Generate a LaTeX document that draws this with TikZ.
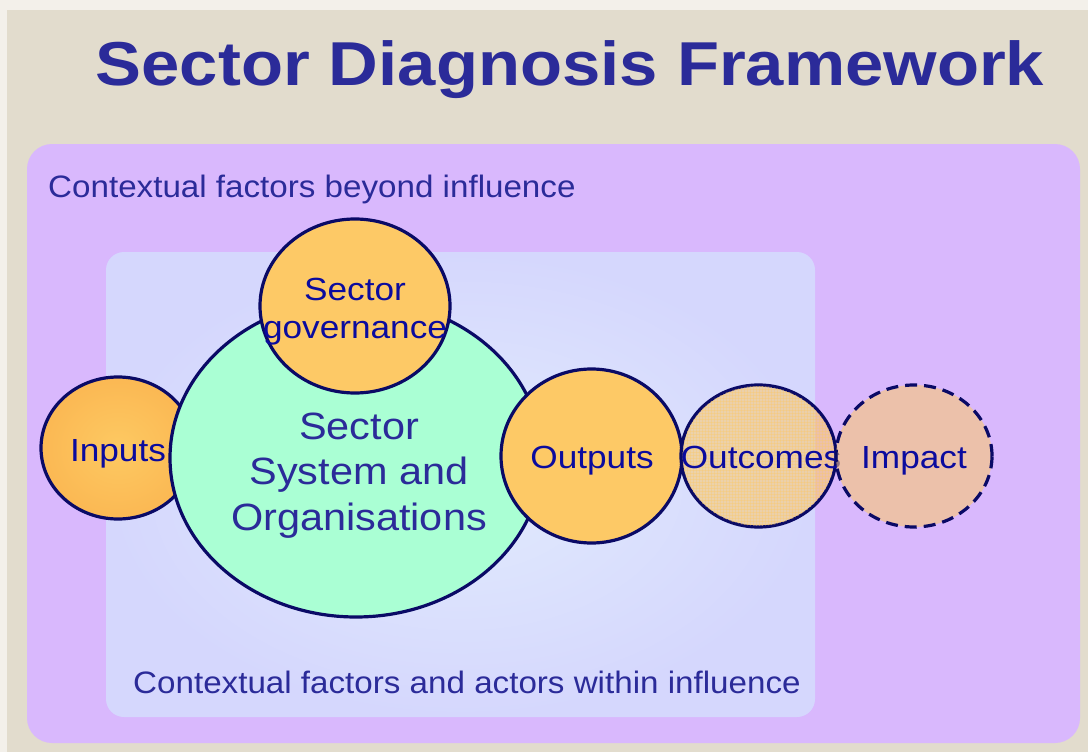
\documentclass[tikz,border=0pt]{standalone}
\usepackage{graphicx}
\usepackage{fontspec}
\setmainfont{Liberation Sans}
\usetikzlibrary{shapes.geometric,patterns}

\definecolor{paper}{HTML}{E2DCCD}
\definecolor{paperedge}{HTML}{F3F0EA}
\definecolor{lavender}{HTML}{D9B8FD}
\definecolor{innerblue}{HTML}{D5D7FD}
\definecolor{innerglow}{HTML}{E1EBFD}
\definecolor{mint}{HTML}{AAFFD4}
\definecolor{amber}{HTML}{FDC966}
\definecolor{amberdeep}{HTML}{FBB853}
\definecolor{amberlight}{HTML}{FDC962}
\definecolor{navy}{HTML}{0A0A66}
\definecolor{inktext}{HTML}{2B2B99}
\definecolor{bubbletext}{HTML}{0B0B9E}

% stretch text a little horizontally
\newcommand{\widen}[2][1.1]{\scalebox{#1}[1]{#2}}

\begin{document}
\begin{tikzpicture}[x=1pt,y=-1pt,
  bubble/.style={ellipse, draw=navy, line width=3.2pt, inner sep=0pt, outer sep=0pt},
  bubbletxt/.style={text=bubbletext, inner sep=0pt, anchor=base, font=\fontsize{32}{38}\selectfont},
  ctxtxt/.style={text=inktext, inner sep=0pt, anchor=base west, font=\fontsize{31}{37}\selectfont}]
\useasboundingbox (0,0) rectangle (1088,752);

% paper background
\fill[paperedge] (0,0) rectangle (1088,752);
\fill[paper] (7,10) rectangle (1088,752);

% title
\node[text=inktext, inner sep=0pt, anchor=base, font=\fontsize{62}{70}\selectfont\bfseries]
  (title) at (570,85) {\widen[1.11]{Sector Diagnosis Framework}};

% outer context box
\fill[lavender, rounded corners=25pt] (27,144) rectangle (1080,743);
\node[ctxtxt] (beyond) at (48,197) {\widen[1.07]{Contextual factors beyond influence}};

% inner context box
\shade[rounded corners=18pt, inner color=innerglow, outer color=innerblue]
  (106,252) rectangle (815,717);
\node[ctxtxt] (within) at (133,693) {\widen[1.07]{Contextual factors and actors within influence}};

% inputs
\node[bubble, inner color=amberlight, outer color=amberdeep,
  minimum width=154pt, minimum height=142pt] (inputs) at (118,448) {};

% sector system and organisations
\node[bubble, fill=mint, minimum width=372pt, minimum height=318pt] (system) at (356,458) {};

% sector governance
\node[bubble, fill=amber, minimum width=190pt, minimum height=174pt] (gov) at (355,306) {};

% outputs
\node[bubble, fill=amber, minimum width=181pt, minimum height=174pt] (outputs) at (591.5,456) {};

% outcomes
\node[bubble, fill=amber, fill opacity=0.55, draw opacity=1,
  minimum width=155pt, minimum height=142pt] (outcomes) at (758.5,456) {};
\fill[pattern=grid, pattern color=amber, opacity=0.35] (outcomes.center) ellipse (76pt and 70pt);

\node[bubbletxt] (inputsT) at (118,461) {\widen{Inputs}};
\node[text=inktext, inner sep=0pt, anchor=base, font=\fontsize{38}{45.5}\selectfont]
  (systemT) at (359,439) {\widen[1.09]{\begin{tabular}[t]{@{}c@{}}Sector\\System and\\Organisations\end{tabular}}};
\node[bubbletxt] (govT) at (355,300) {\widen{\begin{tabular}[t]{@{}c@{}}Sector\\governance\end{tabular}}};
\node[bubbletxt] (outputsT) at (592,468) {\widen{Outputs}};
\node[bubbletxt] (outcomesT) at (761,468) {\widen{Outcomes}};

% impact
\node[bubble, dashed, dash pattern=on 12pt off 7pt, fill=amber, fill opacity=0.55,
  minimum width=156pt, minimum height=142pt] (impact) at (914,456) {};
\node[bubbletxt] (impactT) at (914,468) {\widen{Impact}};
\end{tikzpicture}
\end{document}
